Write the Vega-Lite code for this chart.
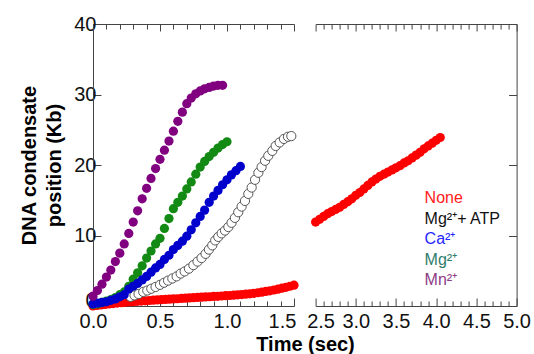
{
  "$schema": "https://vega.github.io/schema/vega-lite/v6.json",
  "padding": {"left": 19, "top": 14, "right": 6, "bottom": 0},
  "spacing": 21.6,
  "bounds": "flush",
  "datasets": {
    "pts": [
      {"s": "None", "t": 0, "v": 0.0}, {"s": "None", "t": 0.03, "v": 0.08}, {"s": "None", "t": 0.06, "v": 0.15}, {"s": "None", "t": 0.09, "v": 0.22}, {"s": "None", "t": 0.12, "v": 0.29}, {"s": "None", "t": 0.15, "v": 0.35}, {"s": "None", "t": 0.18, "v": 0.41}, {"s": "None", "t": 0.21, "v": 0.47}, {"s": "None", "t": 0.24, "v": 0.52}, {"s": "None", "t": 0.27, "v": 0.57},
      {"s": "None", "t": 0.3, "v": 0.61}, {"s": "None", "t": 0.33, "v": 0.66}, {"s": "None", "t": 0.36, "v": 0.7}, {"s": "None", "t": 0.39, "v": 0.74}, {"s": "None", "t": 0.42, "v": 0.78}, {"s": "None", "t": 0.45, "v": 0.82}, {"s": "None", "t": 0.48, "v": 0.86}, {"s": "None", "t": 0.51, "v": 0.89}, {"s": "None", "t": 0.54, "v": 0.93}, {"s": "None", "t": 0.57, "v": 0.96},
      {"s": "None", "t": 0.6, "v": 1.0}, {"s": "None", "t": 0.63, "v": 1.03}, {"s": "None", "t": 0.66, "v": 1.07}, {"s": "None", "t": 0.69, "v": 1.11}, {"s": "None", "t": 0.72, "v": 1.14}, {"s": "None", "t": 0.75, "v": 1.18}, {"s": "None", "t": 0.78, "v": 1.21}, {"s": "None", "t": 0.81, "v": 1.25}, {"s": "None", "t": 0.84, "v": 1.28}, {"s": "None", "t": 0.87, "v": 1.31},
      {"s": "None", "t": 0.9, "v": 1.35}, {"s": "None", "t": 0.93, "v": 1.38}, {"s": "None", "t": 0.96, "v": 1.42}, {"s": "None", "t": 0.99, "v": 1.46}, {"s": "None", "t": 1.02, "v": 1.49}, {"s": "None", "t": 1.05, "v": 1.53}, {"s": "None", "t": 1.08, "v": 1.58}, {"s": "None", "t": 1.11, "v": 1.62}, {"s": "None", "t": 1.14, "v": 1.67}, {"s": "None", "t": 1.17, "v": 1.73},
      {"s": "None", "t": 1.2, "v": 1.8}, {"s": "None", "t": 1.23, "v": 1.88}, {"s": "None", "t": 1.26, "v": 1.96}, {"s": "None", "t": 1.29, "v": 2.06}, {"s": "None", "t": 1.32, "v": 2.16}, {"s": "None", "t": 1.35, "v": 2.27}, {"s": "None", "t": 1.38, "v": 2.39}, {"s": "None", "t": 1.41, "v": 2.52}, {"s": "None", "t": 1.44, "v": 2.65}, {"s": "None", "t": 1.47, "v": 2.8}, {"s": "None", "t": 1.5, "v": 2.95},
      {"s": "None", "t": 2.5, "v": 11.9}, {"s": "None", "t": 2.55, "v": 12.3}, {"s": "None", "t": 2.6, "v": 12.7}, {"s": "None", "t": 2.65, "v": 13.1}, {"s": "None", "t": 2.7, "v": 13.4}, {"s": "None", "t": 2.75, "v": 13.7}, {"s": "None", "t": 2.8, "v": 14.0}, {"s": "None", "t": 2.85, "v": 14.4}, {"s": "None", "t": 2.9, "v": 14.8}, {"s": "None", "t": 2.95, "v": 15.2},
      {"s": "None", "t": 3.0, "v": 15.7}, {"s": "None", "t": 3.05, "v": 16.1}, {"s": "None", "t": 3.1, "v": 16.6}, {"s": "None", "t": 3.15, "v": 17.1}, {"s": "None", "t": 3.2, "v": 17.6}, {"s": "None", "t": 3.25, "v": 18.0}, {"s": "None", "t": 3.3, "v": 18.4}, {"s": "None", "t": 3.35, "v": 18.7}, {"s": "None", "t": 3.4, "v": 19.0}, {"s": "None", "t": 3.45, "v": 19.3},
      {"s": "None", "t": 3.5, "v": 19.6}, {"s": "None", "t": 3.55, "v": 19.9}, {"s": "None", "t": 3.6, "v": 20.3}, {"s": "None", "t": 3.65, "v": 20.6}, {"s": "None", "t": 3.7, "v": 21.0}, {"s": "None", "t": 3.75, "v": 21.4}, {"s": "None", "t": 3.8, "v": 21.8}, {"s": "None", "t": 3.85, "v": 22.3}, {"s": "None", "t": 3.9, "v": 22.7}, {"s": "None", "t": 3.95, "v": 23.1}, {"s": "None", "t": 4.0, "v": 23.5}, {"s": "None", "t": 4.05, "v": 23.9},
      {"s": "Mg²⁺+ ATP", "t": 0.28, "v": 1.3}, {"s": "Mg²⁺+ ATP", "t": 0.31, "v": 1.5}, {"s": "Mg²⁺+ ATP", "t": 0.34, "v": 1.7}, {"s": "Mg²⁺+ ATP", "t": 0.375, "v": 2.0}, {"s": "Mg²⁺+ ATP", "t": 0.405, "v": 2.2}, {"s": "Mg²⁺+ ATP", "t": 0.435, "v": 2.45}, {"s": "Mg²⁺+ ATP", "t": 0.467, "v": 2.7}, {"s": "Mg²⁺+ ATP", "t": 0.5, "v": 3.0}, {"s": "Mg²⁺+ ATP", "t": 0.53, "v": 3.3}, {"s": "Mg²⁺+ ATP", "t": 0.56, "v": 3.6},
      {"s": "Mg²⁺+ ATP", "t": 0.592, "v": 3.9}, {"s": "Mg²⁺+ ATP", "t": 0.624, "v": 4.2}, {"s": "Mg²⁺+ ATP", "t": 0.654, "v": 4.6}, {"s": "Mg²⁺+ ATP", "t": 0.684, "v": 4.9}, {"s": "Mg²⁺+ ATP", "t": 0.716, "v": 5.3}, {"s": "Mg²⁺+ ATP", "t": 0.749, "v": 5.8}, {"s": "Mg²⁺+ ATP", "t": 0.78, "v": 6.3}, {"s": "Mg²⁺+ ATP", "t": 0.81, "v": 6.8}, {"s": "Mg²⁺+ ATP", "t": 0.84, "v": 7.4}, {"s": "Mg²⁺+ ATP", "t": 0.865, "v": 8.0},
      {"s": "Mg²⁺+ ATP", "t": 0.89, "v": 8.6}, {"s": "Mg²⁺+ ATP", "t": 0.912, "v": 9.3}, {"s": "Mg²⁺+ ATP", "t": 0.935, "v": 9.8}, {"s": "Mg²⁺+ ATP", "t": 0.96, "v": 10.3}, {"s": "Mg²⁺+ ATP", "t": 0.985, "v": 10.7}, {"s": "Mg²⁺+ ATP", "t": 1.01, "v": 11.2}, {"s": "Mg²⁺+ ATP", "t": 1.034, "v": 11.8}, {"s": "Mg²⁺+ ATP", "t": 1.059, "v": 12.5}, {"s": "Mg²⁺+ ATP", "t": 1.084, "v": 13.3}, {"s": "Mg²⁺+ ATP", "t": 1.109, "v": 14.1},
      {"s": "Mg²⁺+ ATP", "t": 1.134, "v": 14.9}, {"s": "Mg²⁺+ ATP", "t": 1.159, "v": 15.9}, {"s": "Mg²⁺+ ATP", "t": 1.184, "v": 16.8}, {"s": "Mg²⁺+ ATP", "t": 1.209, "v": 17.9}, {"s": "Mg²⁺+ ATP", "t": 1.234, "v": 18.9}, {"s": "Mg²⁺+ ATP", "t": 1.258, "v": 19.7}, {"s": "Mg²⁺+ ATP", "t": 1.284, "v": 20.6}, {"s": "Mg²⁺+ ATP", "t": 1.308, "v": 21.3}, {"s": "Mg²⁺+ ATP", "t": 1.338, "v": 22.0}, {"s": "Mg²⁺+ ATP", "t": 1.363, "v": 22.7},
      {"s": "Mg²⁺+ ATP", "t": 1.393, "v": 23.2}, {"s": "Mg²⁺+ ATP", "t": 1.425, "v": 23.7}, {"s": "Mg²⁺+ ATP", "t": 1.455, "v": 24.0}, {"s": "Mg²⁺+ ATP", "t": 1.48, "v": 24.1},
      {"s": "Mg²⁺", "t": 0, "v": 0.2}, {"s": "Mg²⁺", "t": 0.033, "v": 0.3}, {"s": "Mg²⁺", "t": 0.067, "v": 0.5}, {"s": "Mg²⁺", "t": 0.1, "v": 0.7}, {"s": "Mg²⁺", "t": 0.133, "v": 0.9}, {"s": "Mg²⁺", "t": 0.167, "v": 1.2}, {"s": "Mg²⁺", "t": 0.2, "v": 1.6}, {"s": "Mg²⁺", "t": 0.233, "v": 2.0}, {"s": "Mg²⁺", "t": 0.267, "v": 2.8}, {"s": "Mg²⁺", "t": 0.3, "v": 3.8},
      {"s": "Mg²⁺", "t": 0.333, "v": 4.7}, {"s": "Mg²⁺", "t": 0.367, "v": 5.7}, {"s": "Mg²⁺", "t": 0.4, "v": 6.8}, {"s": "Mg²⁺", "t": 0.433, "v": 7.8}, {"s": "Mg²⁺", "t": 0.467, "v": 8.8}, {"s": "Mg²⁺", "t": 0.5, "v": 9.6}, {"s": "Mg²⁺", "t": 0.533, "v": 11.0}, {"s": "Mg²⁺", "t": 0.567, "v": 12.4}, {"s": "Mg²⁺", "t": 0.6, "v": 13.8}, {"s": "Mg²⁺", "t": 0.633, "v": 14.7},
      {"s": "Mg²⁺", "t": 0.667, "v": 15.6}, {"s": "Mg²⁺", "t": 0.7, "v": 16.6}, {"s": "Mg²⁺", "t": 0.733, "v": 17.6}, {"s": "Mg²⁺", "t": 0.767, "v": 18.7}, {"s": "Mg²⁺", "t": 0.8, "v": 19.7}, {"s": "Mg²⁺", "t": 0.833, "v": 20.5}, {"s": "Mg²⁺", "t": 0.867, "v": 21.2}, {"s": "Mg²⁺", "t": 0.9, "v": 21.8}, {"s": "Mg²⁺", "t": 0.933, "v": 22.4}, {"s": "Mg²⁺", "t": 0.967, "v": 22.9}, {"s": "Mg²⁺", "t": 1.0, "v": 23.3},
      {"s": "Ca²⁺", "t": 0, "v": 0.3}, {"s": "Ca²⁺", "t": 0.033, "v": 0.4}, {"s": "Ca²⁺", "t": 0.067, "v": 0.5}, {"s": "Ca²⁺", "t": 0.1, "v": 0.6}, {"s": "Ca²⁺", "t": 0.133, "v": 0.8}, {"s": "Ca²⁺", "t": 0.167, "v": 1.0}, {"s": "Ca²⁺", "t": 0.2, "v": 1.3}, {"s": "Ca²⁺", "t": 0.233, "v": 1.6}, {"s": "Ca²⁺", "t": 0.267, "v": 2.4}, {"s": "Ca²⁺", "t": 0.3, "v": 2.8},
      {"s": "Ca²⁺", "t": 0.333, "v": 3.2}, {"s": "Ca²⁺", "t": 0.367, "v": 3.7}, {"s": "Ca²⁺", "t": 0.4, "v": 4.2}, {"s": "Ca²⁺", "t": 0.433, "v": 4.8}, {"s": "Ca²⁺", "t": 0.467, "v": 5.4}, {"s": "Ca²⁺", "t": 0.5, "v": 5.9}, {"s": "Ca²⁺", "t": 0.533, "v": 6.6}, {"s": "Ca²⁺", "t": 0.567, "v": 7.2}, {"s": "Ca²⁺", "t": 0.6, "v": 8.0}, {"s": "Ca²⁺", "t": 0.633, "v": 8.6},
      {"s": "Ca²⁺", "t": 0.667, "v": 9.2}, {"s": "Ca²⁺", "t": 0.7, "v": 9.9}, {"s": "Ca²⁺", "t": 0.733, "v": 10.8}, {"s": "Ca²⁺", "t": 0.767, "v": 11.8}, {"s": "Ca²⁺", "t": 0.8, "v": 12.7}, {"s": "Ca²⁺", "t": 0.833, "v": 13.6}, {"s": "Ca²⁺", "t": 0.867, "v": 14.7}, {"s": "Ca²⁺", "t": 0.9, "v": 15.6}, {"s": "Ca²⁺", "t": 0.933, "v": 16.4}, {"s": "Ca²⁺", "t": 0.967, "v": 17.2},
      {"s": "Ca²⁺", "t": 1.0, "v": 17.9}, {"s": "Ca²⁺", "t": 1.033, "v": 18.6}, {"s": "Ca²⁺", "t": 1.067, "v": 19.2}, {"s": "Ca²⁺", "t": 1.1, "v": 19.8},
      {"s": "Mn²⁺", "t": 0, "v": 1.4}, {"s": "Mn²⁺", "t": 0.033, "v": 2.2}, {"s": "Mn²⁺", "t": 0.067, "v": 3.1}, {"s": "Mn²⁺", "t": 0.1, "v": 4.1}, {"s": "Mn²⁺", "t": 0.133, "v": 5.1}, {"s": "Mn²⁺", "t": 0.167, "v": 6.3}, {"s": "Mn²⁺", "t": 0.2, "v": 7.5}, {"s": "Mn²⁺", "t": 0.233, "v": 8.8}, {"s": "Mn²⁺", "t": 0.267, "v": 10.3}, {"s": "Mn²⁺", "t": 0.3, "v": 11.9},
      {"s": "Mn²⁺", "t": 0.333, "v": 13.5}, {"s": "Mn²⁺", "t": 0.367, "v": 15.2}, {"s": "Mn²⁺", "t": 0.4, "v": 16.7}, {"s": "Mn²⁺", "t": 0.433, "v": 18.1}, {"s": "Mn²⁺", "t": 0.467, "v": 19.5}, {"s": "Mn²⁺", "t": 0.5, "v": 20.8}, {"s": "Mn²⁺", "t": 0.533, "v": 22.1}, {"s": "Mn²⁺", "t": 0.567, "v": 23.4}, {"s": "Mn²⁺", "t": 0.6, "v": 24.8}, {"s": "Mn²⁺", "t": 0.633, "v": 26.2},
      {"s": "Mn²⁺", "t": 0.667, "v": 27.5}, {"s": "Mn²⁺", "t": 0.7, "v": 28.7}, {"s": "Mn²⁺", "t": 0.733, "v": 29.5}, {"s": "Mn²⁺", "t": 0.767, "v": 30.1}, {"s": "Mn²⁺", "t": 0.8, "v": 30.5}, {"s": "Mn²⁺", "t": 0.833, "v": 30.8}, {"s": "Mn²⁺", "t": 0.867, "v": 31.0}, {"s": "Mn²⁺", "t": 0.9, "v": 31.2}, {"s": "Mn²⁺", "t": 0.933, "v": 31.3}, {"s": "Mn²⁺", "t": 0.967, "v": 31.3}
    ]
  },
  "hconcat": [
    {
      "width": 201,
      "height": 282,
      "data": {"name": "pts"},
      "transform": [{"filter": "datum.t <= 1.5"}],
      "layer": [
        {
          "mark": {"type": "circle", "size": 85, "opacity": 1, "strokeWidth": 1},
          "encoding": {
            "x": {
              "field": "t", "type": "quantitative",
              "scale": {"domain": [0, 1.5], "nice": false, "zero": false},
              "axis": {
                "orient": "bottom",
                "values": [0, 0.1, 0.2, 0.3, 0.4, 0.5, 0.6, 0.7, 0.8, 0.9, 1.0, 1.1, 1.2, 1.3, 1.4, 1.5],
                "labelExpr": "round(datum.value*10) % 5 == 0 ? format(datum.value, '.1f') : ''",
                "labelOffset": {"condition": {"test": "datum.value == 1.5", "value": -12}, "value": 0},
                "tickSize": {"condition": {"test": "round(datum.value*10) % 5 == 0", "value": -8}, "value": -5},
                "labelPadding": 13,
                "title": "Time (sec)",
                "titleX": 212,
                "titleY": 38,
                "titleAlign": "center",
                "titleBaseline": "middle"
              }
            },
            "y": {
              "field": "v", "type": "quantitative",
              "scale": {"domain": [0, 40], "nice": false},
              "axis": {
                "orient": "left",
                "values": [0, 10, 20, 30, 40],
                "tickSize": -8,
                "labelPadding": 5,
                "labelOffset": {"condition": {"test": "datum.value == 0", "value": -6}, "value": 0},
                "title": ["DNA condensate", "position (Kb)"],
                "titleLineHeight": 25,
                "titlePadding": 9
              }
            },
            "fill": {
              "field": "s", "type": "nominal",
              "scale": {"domain": ["None", "Mg²⁺+ ATP", "Ca²⁺", "Mg²⁺", "Mn²⁺"], "range": ["#ff0000", "#ffffff", "#0000cc", "#138a13", "#800080"]},
              "legend": null
            },
            "stroke": {
              "condition": {"test": "datum.s === 'Mg²⁺+ ATP'", "value": "#555555"},
              "value": "transparent"
            }
          }
        },
        {
          "mark": {"type": "circle", "opacity": 0},
          "encoding": {
            "x": {
              "field": "t", "type": "quantitative",
              "axis": {
                "orient": "top",
                "values": [0, 0.1, 0.2, 0.3, 0.4, 0.5, 0.6, 0.7, 0.8, 0.9, 1.0, 1.1, 1.2, 1.3, 1.4, 1.5],
                "labels": false,
                "tickSize": {"condition": {"test": "round(datum.value*10) % 5 == 0", "value": -7}, "value": -5},
                "title": null
              }
            }
          }
        }
      ],
      "resolve": {"axis": {"x": "independent"}}
    },
    {
      "width": 201,
      "height": 282,
      "data": {"name": "pts"},
      "transform": [{"filter": "datum.t >= 2.5"}],
      "layer": [
        {
          "mark": {"type": "circle", "size": 85, "opacity": 1},
          "encoding": {
            "x": {
              "field": "t", "type": "quantitative",
              "scale": {"domain": [2.5, 5.0], "nice": false, "zero": false},
              "axis": {
                "orient": "bottom",
                "values": [2.5, 2.6, 2.7, 2.8, 2.9, 3.0, 3.1, 3.2, 3.3, 3.4, 3.5, 3.6, 3.7, 3.8, 3.9, 4.0, 4.1, 4.2, 4.3, 4.4, 4.5, 4.6, 4.7, 4.8, 4.9, 5.0],
                "labelExpr": "round(datum.value*10) % 5 == 0 ? format(datum.value, '.1f') : ''",
                "labelOffset": {"condition": {"test": "datum.value == 2.5", "value": 5}, "value": 0},
                "tickSize": {"condition": {"test": "round(datum.value*10) % 5 == 0", "value": -8}, "value": -5},
                "labelPadding": 13,
                "title": null
              }
            },
            "y": {
              "field": "v", "type": "quantitative",
              "scale": {"domain": [0, 40], "nice": false},
              "axis": {
                "orient": "right",
                "values": [0, 10, 20, 30, 40],
                "tickSize": -8,
                "labels": false,
                "title": null
              }
            },
            "fill": {
              "field": "s", "type": "nominal",
              "scale": {"domain": ["None", "Mg²⁺+ ATP", "Ca²⁺", "Mg²⁺", "Mn²⁺"], "range": ["#ff0000", "#ffffff", "#0000cc", "#138a13", "#800080"]},
              "legend": {
                "orient": "none",
                "legendX": 93,
                "legendY": 166,
                "title": null,
                "values": ["None", "Mg²⁺+ ATP", "Ca²⁺", "Mg²⁺", "Mn²⁺"],
                "symbolSize": 0,
                "symbolOpacity": 0,
                "symbolStrokeWidth": 0,
                "labelOffset": 0,
                "labelFontSize": 16,
                "labelFont": "Liberation Sans",
                "labelLimit": 0,
                "rowPadding": 4.5,
                "padding": 0,
                "encode": {
                  "labels": {
                    "update": {
                      "fill": {"signal": "datum.value === 'None' ? '#ff2020' : datum.value === 'Ca²⁺' ? '#2525ff' : datum.value === 'Mg²⁺' ? '#2e7d6b' : datum.value === 'Mn²⁺' ? '#8e3b86' : '#111111'"}
                    }
                  }
                }
              }
            }
          }
        },
        {
          "mark": {"type": "circle", "opacity": 0},
          "encoding": {
            "x": {
              "field": "t", "type": "quantitative",
              "axis": {
                "orient": "top",
                "values": [2.5, 2.6, 2.7, 2.8, 2.9, 3.0, 3.1, 3.2, 3.3, 3.4, 3.5, 3.6, 3.7, 3.8, 3.9, 4.0, 4.1, 4.2, 4.3, 4.4, 4.5, 4.6, 4.7, 4.8, 4.9, 5.0],
                "labels": false,
                "tickSize": {"condition": {"test": "round(datum.value*10) % 5 == 0", "value": -7}, "value": -5},
                "title": null
              }
            }
          }
        }
      ],
      "resolve": {"axis": {"x": "independent"}}
    }
  ],
  "resolve": {"legend": {"fill": "independent"}},
  "config": {
    "view": {"stroke": null},
    "font": "Liberation Sans",
    "axis": {
      "grid": false,
      "labelFlush": false,
      "labelOverlap": false,
      "domainColor": "#444444",
      "tickColor": "#444444",
      "domainWidth": 1,
      "tickWidth": 1,
      "labelFont": "Liberation Sans",
      "labelFontSize": 20,
      "labelColor": "#111111",
      "titleFont": "Liberation Sans",
      "titleFontSize": 20,
      "titleFontWeight": "bold",
      "titleColor": "#000000"
    }
  }
}
